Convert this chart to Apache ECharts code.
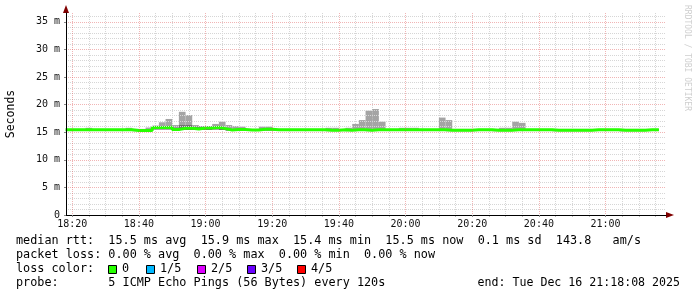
<!DOCTYPE html>
<html><head><meta charset="utf-8">
<script src="https://cdn.jsdelivr.net/npm/echarts@6/dist/echarts.min.js"></script>
<style>html,body{margin:0;padding:0;background:#fff}#c{width:697px;height:297px}</style>
</head><body><div id="c"></div>
<script>
// ---- data (times in minutes since midnight) ----
const viewStart = '18:18:08';
const viewEnd = '21:18:08';
const firstBin = '18:18';
const binMinutes = 2;
const xTickLabels = ['18:20','18:40','19:00','19:20','19:40','20:00','20:20','20:40','21:00'];
const yTickValues = [0,5,10,15,20,25,30,35];
const yMax = 36.6;
// median rtt (ms), one per 2-minute bin
const medianRtt = [
 15.45,15.45,15.45,15.45,15.45,15.45,15.45,15.45,15.45,15.45,
 15.3,15.3,15.3,15.85,15.85,15.9,15.5,15.7,15.7,15.6,
 15.75,15.75,15.9,15.65,15.4,15.5,15.5,15.4,15.4,15.55,
 15.55,15.45,15.45,15.45,15.45,15.45,15.45,15.45,15.45,15.35,
 15.35,15.45,15.35,15.45,15.45,15.35,15.45,15.45,15.45,15.45,
 15.45,15.45,15.45,15.45,15.45,15.45,15.45,15.35,15.35,15.35,
 15.35,15.45,15.45,15.45,15.35,15.35,15.35,15.45,15.45,15.45,
 15.45,15.45,15.45,15.35,15.35,15.35,15.35,15.35,15.35,15.45,
 15.45,15.45,15.45,15.35,15.35,15.35,15.35,15.45,15.45
];
// smoke: lowest and highest ping of each bin (ms)
const smokeLow = [
 15.3,15.3,15.3,15.3,15.3,15.3,15.3,15.3,15.3,15.3,
 15.2,15.2,15.2,15.5,15.5,15.5,15.3,15.4,15.4,15.4,
 15.4,15.4,15.5,15.4,15.3,15.3,15.3,15.3,15.3,15.3,
 15.3,15.3,15.3,15.3,15.3,15.3,15.3,15.3,15.3,15.2,
 15.2,15.3,15.2,15.3,15.3,15.2,15.3,15.3,15.3,15.3,
 15.3,15.3,15.3,15.3,15.3,15.3,15.3,15.2,15.2,15.2,
 15.2,15.3,15.3,15.3,15.2,15.2,15.2,15.3,15.3,15.3,
 15.3,15.3,15.3,15.2,15.2,15.2,15.2,15.2,15.2,15.3,
 15.3,15.3,15.3,15.2,15.2,15.2,15.2,15.3,15.3
];
const smokeHigh = [
 15.6,15.6,15.6,15.8,15.6,15.6,15.6,15.6,15.6,15.8,
 15.6,15.6,15.85,16.2,16.8,17.4,16.3,18.7,18.1,16.3,
 16.1,16.1,16.5,16.9,16.3,16.1,16.0,15.6,15.6,16.0,
 16.0,15.6,15.6,15.6,15.6,15.6,15.6,15.6,15.6,15.8,
 15.8,15.6,15.8,16.5,17.2,18.9,19.2,16.9,15.6,15.6,
 15.8,15.8,15.8,15.6,15.6,15.6,17.65,17.2,15.6,15.6,
 15.6,15.6,15.6,15.6,15.6,15.8,15.8,16.9,16.7,15.6,
 15.6,15.6,15.6,15.6,15.6,15.6,15.6,15.6,15.6,15.6,
 15.6,15.6,15.6,15.6,15.6,15.6,15.6,15.6,15.6
];
// inner (darker) smoke band top (ms)
const smokeInner = [
 15.5,15.5,15.5,15.5,15.5,15.5,15.5,15.5,15.5,15.5,
 15.4,15.4,15.4,15.95,16.0,16.1,15.8,16.3,16.3,16.0,
 16.0,16.0,16.0,15.7,15.5,15.5,15.5,15.5,15.5,15.6,
 15.6,15.5,15.5,15.5,15.5,15.5,15.5,15.5,15.5,15.4,
 15.4,15.5,15.4,15.5,15.5,15.4,15.5,15.5,15.5,15.5,
 15.5,15.5,15.5,15.5,15.5,15.5,15.5,15.4,15.4,15.4,
 15.4,15.5,15.5,15.5,15.4,15.4,15.4,15.5,15.5,15.5,
 15.5,15.5,15.5,15.4,15.4,15.4,15.4,15.4,15.4,15.5,
 15.5,15.5,15.5,15.4,15.4,15.4,15.4,15.5,15.5
];
const legendLines = [
 'median rtt:  15.5 ms avg  15.9 ms max  15.4 ms min  15.5 ms now  0.1 ms sd  143.8   am/s',
 'packet loss: 0.00 % avg  0.00 % max  0.00 % min  0.00 % now',
 'loss color:',
 'probe:       5 ICMP Echo Pings (56 Bytes) every 120s'
];
const lossLabels = ['0','1/5','2/5','3/5','4/5'];
const lossColors = ['#26ff00','#00b8ff','#dd00ff','#6a00ff','#ff0000'];
const endText = 'end: Tue Dec 16 21:18:08 2025';
const watermark = 'RRDTOOL / TOBI OETIKER';

// ---- helpers ----
function toMin(s){const p=s.split(':').map(Number);return p[0]*60+p[1]+(p[2]||0)/60;}
const xMin = toMin(viewStart), xMax = toMin(viewEnd);
const bin0 = toMin(firstBin);
const binStarts = medianRtt.map((_, i) => bin0 + i*binMinutes);
const majorX = xTickLabels.map(toMin);
const minorX = [];
for (let m = Math.ceil(xMin/5)*5; m <= xMax; m += 5) if (m % 20 !== 0) minorX.push(m);
function fmt(m){const h=Math.floor(m/60), mm=Math.round(m-h*60);return String(h).padStart(2,'0')+':'+String(mm).padStart(2,'0');}

const MONO = '"DejaVu Sans Mono", monospace';
const FONT = '11.8px '+MONO;
const majorLine = {show:true, lineStyle:{color:'rgba(222,79,79,0.42)', type:[1,1], width:1}};
const minorLine = {show:true, lineStyle:{color:'#d6d6d6', type:[1,1], width:1}};

function smokeRender(color){
  return function(params, api){
    const t0 = api.value(0), lo = api.value(1), hi = api.value(2);
    const a = api.coord([t0, hi]);
    const b = api.coord([t0 + binMinutes, lo]);
    const cs = params.coordSys;
    const r = echarts.graphic.clipRectByRect(
      {x:a[0], y:a[1], width:b[0]-a[0], height:b[1]-a[1]},
      {x:cs.x, y:cs.y, width:cs.width, height:cs.height});
    return r ? {type:'rect', shape:r, style:{fill:color}} : null;
  };
}

const graphic = [];
const lineY = [241, 255, 269, 283];
legendLines.forEach((t, i) => graphic.push({type:'text', x:16, y:lineY[i],
  style:{text:t, font:FONT, fill:'#000', verticalAlign:'middle'}}));
const boxX = [108, 146, 197, 247, 297];
lossLabels.forEach((l, i) => {
  graphic.push({type:'rect', shape:{x:boxX[i]+0.5, y:265.5, width:8, height:8},
    style:{fill:lossColors[i], stroke:'#000', lineWidth:1}});
  graphic.push({type:'text', x:boxX[i]+14, y:269,
    style:{text:l, font:FONT, fill:'#000', verticalAlign:'middle'}});
});
graphic.push({type:'text', x:680, y:283, style:{text:endText, font:'11.6px '+MONO, fill:'#000', align:'right', verticalAlign:'middle'}});
graphic.push({type:'text', x:687, y:5, rotation:-Math.PI/2,
  style:{text:watermark, font:'8px '+MONO, fill:'#cfcfcf', verticalAlign:'middle'}});

const chart = echarts.init(document.getElementById('c'), null, {renderer:'canvas'});
chart.setOption({
  animation:false,
  backgroundColor:'#fff',
  grid:{left:66, right:31, top:13, bottom:82, containLabel:false, outerBoundsMode:'none'},
  xAxis:[{
    type:'value', min:xMin, max:xMax, z:5,
    axisLine:{show:true, onZero:false, lineStyle:{color:'#000', width:1}},
    axisTick:{show:true, length:2, inside:false, customValues:majorX, lineStyle:{color:'#888'}},
    axisLabel:{customValues:majorX, formatter:fmt, color:'#111', fontFamily:'DejaVu Sans Mono', fontSize:10, margin:4},
    splitLine:majorLine
  },{
    type:'value', min:xMin, max:xMax, position:'bottom', z:1,
    axisLine:{show:true, onZero:false, symbol:['none','triangle'], symbolSize:[6,8], symbolOffset:[0,4], lineStyle:{color:'#800000'}},
    axisTick:{show:true, length:2, customValues:minorX, lineStyle:{color:'#bbb'}},
    axisLabel:{show:false, customValues:minorX},
    splitLine:minorLine
  }],
  yAxis:[{
    type:'value', min:0, max:yMax, interval:5, z:5,
    axisLine:{show:true, lineStyle:{color:'#000'}},
    axisTick:{show:true, length:2, customValues:yTickValues, lineStyle:{color:'#888'}},
    axisLabel:{customValues:yTickValues, formatter:v => v===0?'0':v+' m', color:'#111', fontFamily:'DejaVu Sans Mono', fontSize:10, margin:6},
    splitLine:majorLine,
    minorTick:{show:false, splitNumber:5},
    minorSplitLine:minorLine,
    name:'Seconds', nameLocation:'middle', nameGap:49,
    nameTextStyle:{fontFamily:'DejaVu Sans Mono', fontSize:11.5, color:'#000'}
  },{
    type:'value', min:0, max:yMax, position:'left', z:1,
    axisLine:{show:true, onZero:false, symbol:['none','triangle'], symbolSize:[6,8], symbolOffset:[0,4], lineStyle:{color:'#800000'}},
    axisTick:{show:false}, axisLabel:{show:false}, splitLine:{show:false}
  }],
  series:[{
    type:'custom', xAxisIndex:0, yAxisIndex:0, z:2, silent:true,
    renderItem:smokeRender('#a4a4a4'),
    encode:{x:0, y:[1,2]},
    data:binStarts.map((t,i)=>[t, smokeLow[i], smokeHigh[i]])
  },{
    type:'custom', xAxisIndex:0, yAxisIndex:0, z:3, silent:true,
    renderItem:smokeRender('#707070'),
    encode:{x:0, y:[1,2]},
    data:binStarts.map((t,i)=>[t, smokeLow[i], smokeInner[i]])
  },{
    type:'line', xAxisIndex:0, yAxisIndex:0, z:4, step:'end', symbol:'none', silent:true,
    lineStyle:{color:lossColors[0], width:3},
    data:binStarts.map((t,i)=>[t, medianRtt[i]]).concat([[binStarts[binStarts.length-1]+binMinutes, medianRtt[medianRtt.length-1]]])
  }],
  graphic:graphic
});
</script></body></html>
